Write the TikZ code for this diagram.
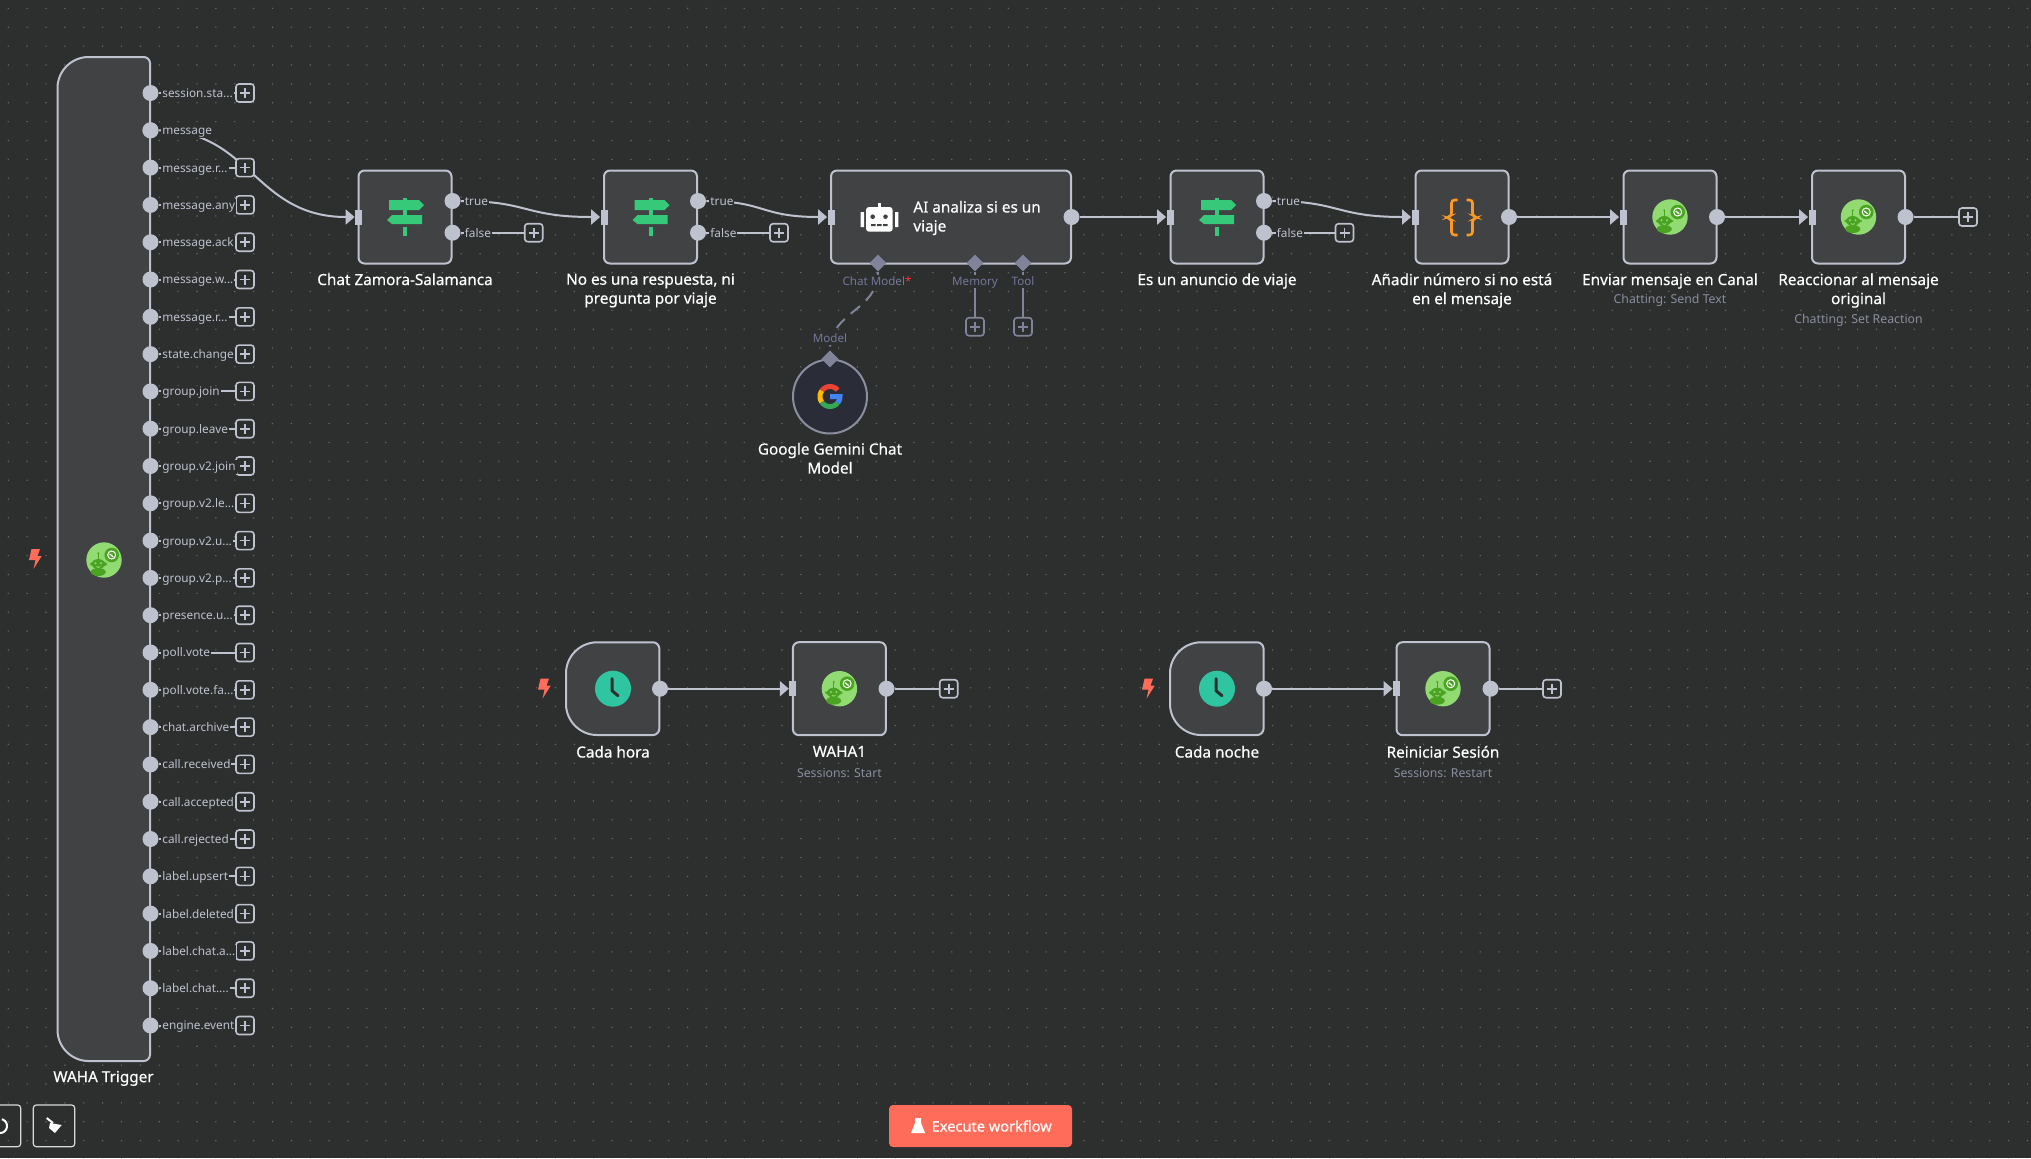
\documentclass[tikz,border=0pt]{standalone}
\usepackage{fontspec}
\setmainfont{Noto Sans}
\newfontfamily\labelfont[FakeBold=0.45]{Noto Sans}
\usetikzlibrary{shapes.geometric,arrows.meta}
\definecolor{bgcol}{HTML}{2D2E2E}
\definecolor{dotcol}{HTML}{666868}
\definecolor{boxcol}{HTML}{414244}
\definecolor{linecol}{HTML}{BEC2CE}
\definecolor{subcol}{HTML}{8A8E9E}
\definecolor{hookcol}{HTML}{80839A}
\definecolor{hooktext}{HTML}{74789A}
\definecolor{runcol}{HTML}{FF6D5A}
\definecolor{switchcol}{HTML}{36C97A}
\definecolor{clockcol}{HTML}{2FC5A0}
\definecolor{bracecol}{HTML}{FF9922}
\definecolor{wahalight}{HTML}{92DB73}
\definecolor{wahadark}{HTML}{4BA322}
\definecolor{geminicol}{HTML}{2A2C38}
\newcommand{\cutdots}{...}
\tikzset{
  wfbox/.style={draw=linecol,fill=boxcol,line width=1pt,rounded corners=3pt,inner sep=0pt,minimum height=46.5pt},
  wfsquare/.style={wfbox,minimum width=46.5pt},
  trigbox/.style={draw=linecol,fill=boxcol,line width=1pt},
  inport/.style={fill=linecol,inner sep=0pt,minimum width=3.5pt,minimum height=7.5pt},
  outport/.style={circle,fill=linecol,inner sep=0pt,minimum size=8pt},
  plusbox/.style={draw=#1,fill=bgcol,line width=0.8pt,rounded corners=1.5pt,inner sep=0pt,minimum size=9pt,
    path picture={\draw[#1,line width=0.8pt]
      ([xshift=-2.5pt]path picture bounding box.center) -- ([xshift=2.5pt]path picture bounding box.center)
      ([yshift=-2.5pt]path picture bounding box.center) -- ([yshift=2.5pt]path picture bounding box.center);}},
  plusbox/.default=linecol,
  hook/.style={diamond,fill=hookcol,inner sep=0pt,minimum size=8.5pt},
  wire/.style={draw=linecol,line width=1pt},
  wirein/.style={wire,-{Triangle[length=4.5pt,width=7.5pt]}},
  hookwire/.style={draw=hookcol,line width=1pt},
  portlabel/.style={anchor=west,fill=bgcol,inner sep=0.5pt,yshift=-0.5pt,text height=4.6pt,text depth=1.2pt,text=linecol,font=\fontsize{5.9}{7}\selectfont},
  hooklabel/.style={fill=bgcol,inner sep=0.5pt,yshift=-0.3pt,text height=4.6pt,text depth=1.2pt,text=hooktext,font=\fontsize{5.8}{7}\selectfont},
  mainlabel/.style={anchor=north,align=center,inner sep=0pt,text=white,font=\labelfont\fontsize{7.65}{9.5}\selectfont},
  sublabel/.style={anchor=center,inner sep=0pt,text=subcol,font=\fontsize{6.15}{7}\selectfont},
}
\newcommand{\trigshape}[4]{
  \draw[trigbox] ({#1+31},#3) -- ({#2-6},#3) .. controls ({#2-3},#3) and (#2,{#3+3}) .. (#2,{#3+6})
    -- (#2,{#4-6}) .. controls (#2,{#4-3}) and ({#2-3},#4) .. ({#2-6},#4)
    -- ({#1+31},#4) .. controls ({#1+14},#4) and (#1,{#4-14}) .. (#1,{#4-31})
    -- (#1,{#3+31}) .. controls (#1,{#3+14}) and ({#1+14},#3) .. ({#1+31},#3) -- cycle;
}
\newcommand{\wahaicon}[2]{
  \begin{scope}[shift={(#1,#2)}]
    \fill[wahalight] (0,0) circle (17.7);
    \fill[wahadark] (7.7,-5) circle (7.3);
    \draw[white,line width=0.5pt] (7.7,-5) circle (4);
    \draw[white,line width=0.6pt] (5.7,-6) -- (9.2,-3.2);
    \draw[wahadark,line width=0.6pt] (-5.7,0) -- (-5.7,-6);
    \fill[wahadark] (-5.7,-6.7) circle (1.1);
    \fill[wahadark,rounded corners=2pt] (-14,1.5) rectangle (3,6.5);
    \fill[wahadark] (-5.7,4) ellipse (6.5 and 5);
    \fill[wahadark] (-5.7,12) ellipse (7.5 and 4);
    \fill[wahalight] (-8.5,3.3) circle (1.1) (-3,3.3) circle (1.1);
    \draw[wahalight,line width=0.4pt] (-7.5,6.5) -- (-5.7,7.5) -- (-3.9,6.5);
  \end{scope}
}
\newcommand{\switchicon}[2]{
  \begin{scope}[shift={(#1,#2)}]
    \fill[switchcol] (-16,-17) -- (14,-17) -- (19,-12) -- (14,-7) -- (-16,-7) -- cycle;
    \fill[switchcol] (-2,-19) rectangle (2,-17);
    \fill[switchcol] (17,-2) -- (-13,-2) -- (-18,3) -- (-13,7) -- (17,7) -- cycle;
    \fill[switchcol] (-2,-7) rectangle (2,-2);
    \fill[switchcol] (-2,10) rectangle (2,19);
  \end{scope}
}
\newcommand{\clockicon}[2]{
  \begin{scope}[shift={(#1,#2)}]
    \fill[clockcol] (0,0) circle (18);
    \draw[bgcol,line width=1.5pt,line cap=round,line join=round] (-1,-10) -- (-1,2) -- (5,7);
  \end{scope}
}
\newcommand{\bolticon}[2]{
  \begin{scope}[shift={(#1,#2)}]
    \fill[runcol] (-3.5,-10) -- (5,-10) -- (2.5,-3) -- (6.7,-3) -- (-1.5,10) -- (0.5,1) -- (-6,1) -- cycle;
  \end{scope}
}
\begin{document}
\begin{tikzpicture}[x=0.5pt,y=-0.5pt]
  \path[use as bounding box,clip] (0,0) rectangle (2031,1158);
  \fill[bgcol] (0,0) rectangle (2031,1158);
  \foreach \dx in {0,...,107}
    \foreach \dy in {0,...,61}
      \fill[dotcol] ({8.3+18.87*\dx},{8.4+18.87*\dy}) circle (0.8);

  % trigger with its outputs
  \trigshape{57.5}{150}{57}{1061}
  \wahaicon{104}{560}
  \bolticon{35}{559}
  \node[mainlabel] (wahalabel) at (103.5,1070.5) {WAHA Trigger};
  \node[outport] (msgout) at (150.5,130.3) {};
  \node[inport] (chatin) at (358.5,217) {};
  \draw[wirein] (msgout) .. controls +(100,0) and +(-100,0) .. (chatin.west);
  \foreach \evname [count=\i] in {session.sta\cutdots,message,message.r\cutdots,message.any,message.ack,message.w\cutdots,message.r\cutdots,state.change,group.join,group.leave,group.v2.join,group.v2.le\cutdots,group.v2.u\cutdots,group.v2.p\cutdots,presence.u\cutdots,poll.vote,poll.vote.fa\cutdots,chat.archive,call.received,call.accepted,call.rejected,label.upsert,label.deleted,label.chat.a\cutdots,label.chat.\cutdots,engine.event}{
    \pgfmathsetmacro\ypos{93+37.3*(\i-1)}
    \node[outport] (out\i) at (150.5,\ypos) {};
    \ifnum\i=2\else
      \node[plusbox] (add\i) at (245,\ypos) {};
      \draw[wire] (out\i) -- (add\i);
    \fi
    \node[portlabel] (ev\i) at (161,\ypos) {\evname};
  }

  % first row
  \node[wfsquare] (chat) at (405,217) {};
  \node[inport] (chatin) at (358.5,217) {};
  \node[outport] (chattrue) at (452.5,201) {};
  \node[outport] (chatfalse) at (452.5,232.7) {};
  \node[plusbox] (chatadd) at (533.7,232.7) {};
  \switchicon{405}{217}
  \node[mainlabel] (chatlabel) at (405,273) {Chat Zamora-Salamanca};

  \node[wfsquare] (reply) at (650.5,217) {};
  \node[inport] (replyin) at (604,217) {};
  \node[outport] (replytrue) at (698,201) {};
  \node[outport] (replyfalse) at (698,232.7) {};
  \node[plusbox] (replyadd) at (779,232.7) {};
  \switchicon{650.5}{217}
  \node[mainlabel] (replylabel) at (650.5,273) {No es una respuesta, ni\\pregunta por viaje};

  \node[wfbox,minimum width=120pt] (agent) at (951,217) {};
  \node[inport] (agentin) at (831,217) {};
  \node[outport] (agentout) at (1071.5,217) {};
  \node[anchor=west,align=left,inner sep=0pt,text=white,font=\labelfont\fontsize{7.65}{9.5}\selectfont] (agenttext) at (913,218) {AI analiza si es un\\viaje};
  \fill[white,rounded corners=1.5pt] (866,207) rectangle (892.7,231.7);
  \fill[white] (860.7,212) rectangle (864,227) (895,212) rectangle (898.3,227);
  \fill[white] (877.5,203) rectangle (880.5,207);
  \fill[boxcol] (872.7,216.7) circle (2.3) (885.5,216.7) circle (2.3);
  \fill[boxcol] (871,224) rectangle (875.5,226) (877,224) rectangle (881.5,226) (883,224) rectangle (887.5,226);

  \node[hook] (modelhook) at (878,263) {};
  \node[hook] (memoryhook) at (975,263) {};
  \node[hook] (toolhook) at (1023,263) {};
  \node[plusbox=hookcol] (memoryadd) at (975,326.7) {};
  \node[plusbox=hookcol] (tooladd) at (1023,326.7) {};
  \draw[hookwire] (memoryhook) -- (memoryadd);
  \draw[hookwire] (toolhook) -- (tooladd);
  \node[hook] (geminihook) at (830,359) {};
  \draw[hookwire,dashed,dash pattern=on 6pt off 4pt] (modelhook) .. controls +(0,48) and +(0,-48) .. (geminihook);
  \node[hooklabel] (modeltext) at (877,281) {Chat Model\textcolor{red!80!white}{*}};
  \node[hooklabel] (memorytext) at (975,281) {Memory};
  \node[hooklabel] (tooltext) at (1023,281) {Tool};
  \node[hooklabel] (geminitext) at (830,338) {Model};
  \node[circle,draw=subcol,fill=geminicol,line width=1pt,inner sep=0pt,minimum size=37pt] (gemini) at (830,396.5) {};
  \node[hook] (geminihook) at (830,359) {};
  \draw[line width=2.5pt,color={rgb,255:red,234;green,67;blue,53}] plot[domain=40:145,samples=12] ({830+10*cos(\x)},{396.5-10*sin(\x)});
  \draw[line width=2.5pt,color={rgb,255:red,251;green,188;blue,5}] plot[domain=145:215,samples=10] ({830+10*cos(\x)},{396.5-10*sin(\x)});
  \draw[line width=2.5pt,color={rgb,255:red,52;green,168;blue,83}] plot[domain=215:320,samples=12] ({830+10*cos(\x)},{396.5-10*sin(\x)});
  \draw[line width=2.5pt,color={rgb,255:red,66;green,133;blue,244}] plot[domain=320:360,samples=6] ({830+10*cos(\x)},{396.5-10*sin(\x)}) -- (830,396.5);
  \node[mainlabel] (geminilabel) at (830,442.5) {Google Gemini Chat\\Model};

  \node[wfsquare] (advert) at (1217,217) {};
  \node[inport] (advertin) at (1170,217) {};
  \node[outport] (adverttrue) at (1264,201) {};
  \node[outport] (advertfalse) at (1264,232.7) {};
  \node[plusbox] (advertadd) at (1344.5,232.7) {};
  \switchicon{1217}{217}
  \node[mainlabel] (advertlabel) at (1217,273) {Es un anuncio de viaje};

  \node[wfsquare] (number) at (1462,217) {};
  \node[inport] (numberin) at (1415,217) {};
  \node[outport] (numberout) at (1509,217) {};
  \draw[bracecol,line width=1.3pt,rounded corners=1.5pt] (1457.5,200) -- (1451.5,200) -- (1451.5,216) -- (1446,217.5) -- (1451.5,219) -- (1451.5,235) -- (1457.5,235);
  \draw[bracecol,line width=1.3pt,rounded corners=1.5pt] (1466.5,200) -- (1472.5,200) -- (1472.5,216) -- (1478,217.5) -- (1472.5,219) -- (1472.5,235) -- (1466.5,235);
  \node[mainlabel] (numberlabel) at (1462,273) {Añadir número si no está\\en el mensaje};

  \node[wfsquare] (send) at (1670,217) {};
  \node[inport] (sendin) at (1623,217) {};
  \node[outport] (sendout) at (1717,217) {};
  \wahaicon{1670}{217}
  \node[mainlabel] (sendlabel) at (1670,273) {Enviar mensaje en Canal};
  \node[sublabel] (sendsub) at (1670,300.7) {Chatting: Send Text};

  \node[wfsquare] (react) at (1858.5,217) {};
  \node[inport] (reactin) at (1812,217) {};
  \node[outport] (reactout) at (1905.5,217) {};
  \node[plusbox] (reactadd) at (1968,217) {};
  \wahaicon{1858.5}{217}
  \node[mainlabel] (reactlabel) at (1858.5,273) {Reaccionar al mensaje\\original};
  \node[sublabel] (reactsub) at (1858.5,320) {Chatting: Set Reaction};

  \draw[wirein] (chattrue) .. controls +(76,0) and +(-76,0) .. (replyin.west);
  \draw[wire] (chatfalse) -- (chatadd);
  \draw[wirein] (replytrue) .. controls +(67,0) and +(-67,0) .. (agentin.west);
  \draw[wire] (replyfalse) -- (replyadd);
  \draw[wirein] (agentout) -- (advertin.west);
  \draw[wirein] (adverttrue) .. controls +(76,0) and +(-76,0) .. (numberin.west);
  \draw[wire] (advertfalse) -- (advertadd);
  \draw[wirein] (numberout) -- (sendin.west);
  \draw[wirein] (sendout) -- (reactin.west);
  \draw[wire] (reactout) -- (reactadd);
  \foreach \nd/\xp in {chat/463.5,reply/709,advert/1275.5}{
    \node[portlabel] (\nd truetext) at (\xp,201) {true};
    \node[portlabel] (\nd falsetext) at (\xp,232.7) {false};
  }

  % second row
  \trigshape{566}{659.3}{642.3}{735}
  \clockicon{613}{688.7}
  \bolticon{544}{688.7}
  \node[outport] (hourout) at (660,688.7) {};
  \node[mainlabel] (hourlabel) at (613,745.5) {Cada hora};
  \node[wfsquare] (start) at (839.4,688.7) {};
  \node[inport] (startin) at (792.7,688.7) {};
  \node[outport] (startout) at (886.5,688.7) {};
  \node[plusbox] (startadd) at (948.7,688.7) {};
  \wahaicon{839.4}{688.7}
  \node[mainlabel] (startlabel) at (839.4,745.5) {WAHA1};
  \node[sublabel] (startsub) at (839.4,772.7) {Sessions: Start};
  \draw[wirein] (hourout) -- (startin.west);
  \draw[wire] (startout) -- (startadd);

  \trigshape{1170}{1263.5}{642.3}{735}
  \clockicon{1217}{688.7}
  \bolticon{1148}{688.7}
  \node[outport] (nightout) at (1264,688.7) {};
  \node[mainlabel] (nightlabel) at (1217,745.5) {Cada noche};
  \node[wfsquare] (restart) at (1443,688.7) {};
  \node[inport] (restartin) at (1396.5,688.7) {};
  \node[outport] (restartout) at (1490.5,688.7) {};
  \node[plusbox] (restartadd) at (1552,688.7) {};
  \wahaicon{1443}{688.7}
  \node[mainlabel] (restartlabel) at (1443,745.5) {Reiniciar Sesión};
  \node[sublabel] (restartsub) at (1443,772.7) {Sessions: Restart};
  \draw[wirein] (nightout) -- (restartin.west);
  \draw[wire] (restartout) -- (restartadd);

  % canvas buttons
  \draw[white!85!black,line width=0.6pt,rounded corners=1.5pt] (-22,1105) rectangle (20.7,1146.7);
  \draw[white,line width=1pt] plot[domain=-90:75,samples=16] ({7*cos(\x)},{1126-7*sin(\x)});
  \draw[white!85!black,line width=0.6pt,rounded corners=1.5pt] (33.3,1105) rectangle (74.7,1146.7);
  \draw[white,line width=1pt] (46.7,1118) -- (53,1123);
  \fill[white] (50,1123) -- (61.7,1125) -- (55,1133) -- (49,1128) -- cycle;
  \fill[runcol,rounded corners=2pt] (889,1105) rectangle (1072,1147);
  \fill[white] (915,1118) -- (921,1118) -- (921,1123) -- (925,1133) -- (911,1133) -- (915,1123) -- cycle;
  \node[inner sep=0pt,text=white,font=\labelfont\fontsize{7.3}{9}\selectfont] (runtext) at (991.7,1126) {Execute workflow};
\end{tikzpicture}
\end{document}
